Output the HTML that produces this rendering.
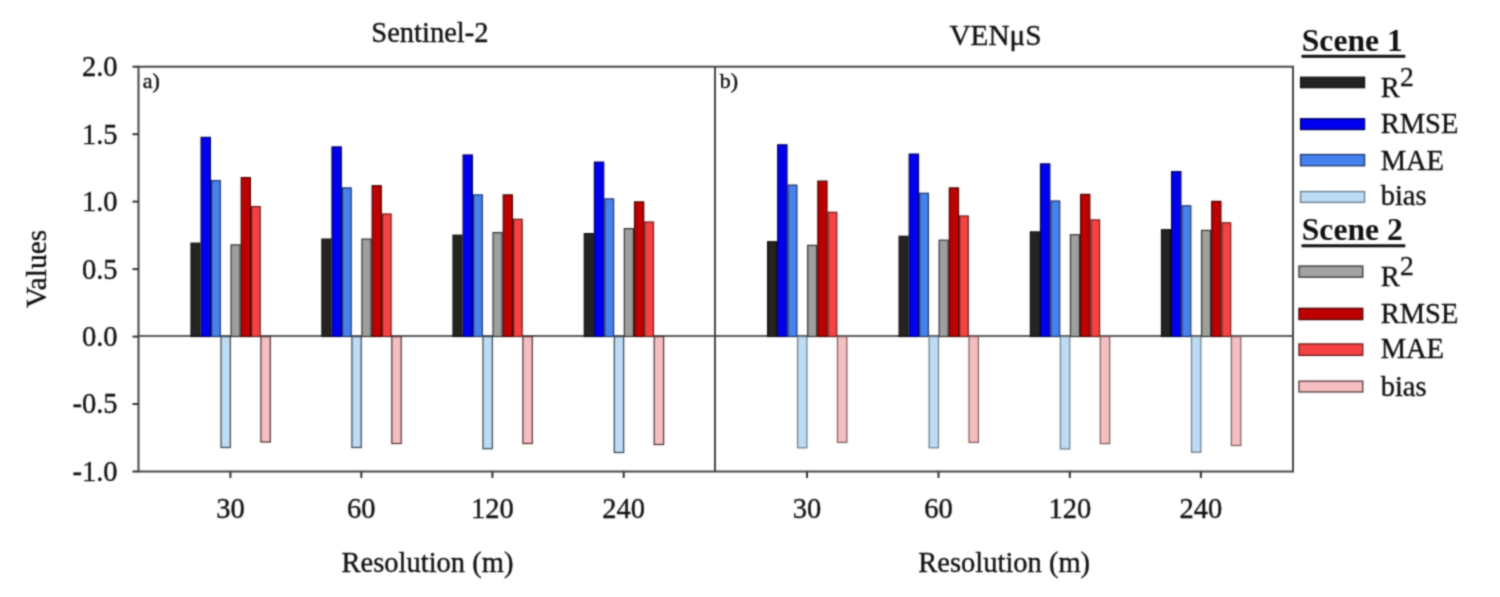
<!DOCTYPE html>
<html><head><meta charset="utf-8"><title>Chart</title>
<style>html,body{margin:0;padding:0;background:#fff;width:1500px;height:597px;overflow:hidden}svg{display:block}</style>
</head><body>
<svg width="1500" height="597" viewBox="0 0 1500 597">
<style>
.ax{stroke:#454545;stroke-width:2;fill:none}
.tk{stroke:#333333;stroke-width:2;fill:none}
.zl{stroke:#5c5c5c;stroke-width:2.2;fill:none}
.t{font-family:"Liberation Serif",serif;font-size:28.5px;fill:#111;stroke:#111;stroke-width:0.35px}
.lt{font-family:"Liberation Serif",serif;font-size:31.6px;font-weight:bold;fill:#111}
.sup{font-family:"Liberation Serif",serif;font-size:27.6px;fill:#111;stroke:#111;stroke-width:0.35px}
.ab{font-family:"Liberation Serif",serif;font-size:22px;fill:#111;stroke:#111;stroke-width:0.45px}
</style>
<defs><filter id="bl" x="0" y="0" width="1500" height="597" filterUnits="userSpaceOnUse" color-interpolation-filters="sRGB"><feConvolveMatrix order="5" kernelMatrix="0.00009 0.00198 0.00548 0.00198 0.00009 0.00198 0.04220 0.11707 0.04220 0.00198 0.00548 0.11707 0.32480 0.11707 0.00548 0.00198 0.04220 0.11707 0.04220 0.00198 0.00009 0.00198 0.00548 0.00198 0.00009" edgeMode="duplicate" preserveAlpha="true"/></filter></defs>
<g filter="url(#bl)">
<rect width="1500" height="597" fill="#ffffff"/>
<text x="371.3" y="42.3" class="t">Sentinel-2</text>
<text x="949.5" y="44.8" class="t" style="font-size:29.2px">VEN&#956;S</text>
<line x1="138.5" y1="336.0" x2="1293.0" y2="336.0" class="zl"/>
<rect x="191.00" y="243.20" width="8.90" height="93.30" fill="#262420" stroke="#111111" stroke-width="1.2"/>
<rect x="201.10" y="137.40" width="9.30" height="199.10" fill="#0000f0" stroke="#000060" stroke-width="1.2"/>
<rect x="211.60" y="180.60" width="8.70" height="155.90" fill="#4682ee" stroke="#1c3468" stroke-width="1.2"/>
<rect x="221.00" y="336.60" width="9.35" height="110.90" fill="#bcdbf4" stroke="#38444e" stroke-width="1.2"/>
<rect x="231.05" y="244.90" width="9.00" height="91.60" fill="#9e9f9f" stroke="#333333" stroke-width="1.2"/>
<rect x="241.25" y="177.60" width="9.15" height="158.90" fill="#be0000" stroke="#4a0000" stroke-width="1.2"/>
<rect x="251.60" y="206.60" width="8.60" height="129.90" fill="#f64242" stroke="#6a1a1a" stroke-width="1.2"/>
<rect x="260.90" y="336.60" width="9.40" height="105.40" fill="#f5bfc2" stroke="#4a3030" stroke-width="1.2"/>
<rect x="321.90" y="239.10" width="8.90" height="97.40" fill="#262420" stroke="#111111" stroke-width="1.2"/>
<rect x="332.00" y="146.90" width="9.30" height="189.60" fill="#0000f0" stroke="#000060" stroke-width="1.2"/>
<rect x="342.50" y="187.90" width="8.70" height="148.60" fill="#4682ee" stroke="#1c3468" stroke-width="1.2"/>
<rect x="351.90" y="336.60" width="9.35" height="110.90" fill="#bcdbf4" stroke="#38444e" stroke-width="1.2"/>
<rect x="361.95" y="239.10" width="9.00" height="97.40" fill="#9e9f9f" stroke="#333333" stroke-width="1.2"/>
<rect x="372.15" y="185.70" width="9.15" height="150.80" fill="#be0000" stroke="#4a0000" stroke-width="1.2"/>
<rect x="382.50" y="214.00" width="8.60" height="122.50" fill="#f64242" stroke="#6a1a1a" stroke-width="1.2"/>
<rect x="391.80" y="336.60" width="9.40" height="106.90" fill="#f5bfc2" stroke="#4a3030" stroke-width="1.2"/>
<rect x="453.00" y="235.20" width="8.90" height="101.30" fill="#262420" stroke="#111111" stroke-width="1.2"/>
<rect x="463.10" y="155.00" width="9.30" height="181.50" fill="#0000f0" stroke="#000060" stroke-width="1.2"/>
<rect x="473.60" y="194.90" width="8.70" height="141.60" fill="#4682ee" stroke="#1c3468" stroke-width="1.2"/>
<rect x="483.00" y="336.60" width="9.35" height="112.10" fill="#bcdbf4" stroke="#38444e" stroke-width="1.2"/>
<rect x="493.05" y="232.60" width="9.00" height="103.90" fill="#9e9f9f" stroke="#333333" stroke-width="1.2"/>
<rect x="503.25" y="194.90" width="9.15" height="141.60" fill="#be0000" stroke="#4a0000" stroke-width="1.2"/>
<rect x="513.60" y="219.30" width="8.60" height="117.20" fill="#f64242" stroke="#6a1a1a" stroke-width="1.2"/>
<rect x="522.90" y="336.60" width="9.40" height="106.90" fill="#f5bfc2" stroke="#4a3030" stroke-width="1.2"/>
<rect x="584.30" y="233.60" width="8.90" height="102.90" fill="#262420" stroke="#111111" stroke-width="1.2"/>
<rect x="594.40" y="162.10" width="9.30" height="174.40" fill="#0000f0" stroke="#000060" stroke-width="1.2"/>
<rect x="604.90" y="198.90" width="8.70" height="137.60" fill="#4682ee" stroke="#1c3468" stroke-width="1.2"/>
<rect x="614.30" y="336.60" width="9.35" height="115.90" fill="#bcdbf4" stroke="#38444e" stroke-width="1.2"/>
<rect x="624.35" y="228.60" width="9.00" height="107.90" fill="#9e9f9f" stroke="#333333" stroke-width="1.2"/>
<rect x="634.55" y="201.90" width="9.15" height="134.60" fill="#be0000" stroke="#4a0000" stroke-width="1.2"/>
<rect x="644.90" y="222.00" width="8.60" height="114.50" fill="#f64242" stroke="#6a1a1a" stroke-width="1.2"/>
<rect x="654.20" y="336.60" width="9.40" height="107.90" fill="#f5bfc2" stroke="#4a3030" stroke-width="1.2"/>
<rect x="767.60" y="241.70" width="8.90" height="94.80" fill="#262420" stroke="#111111" stroke-width="1.2"/>
<rect x="777.70" y="144.80" width="9.30" height="191.70" fill="#0000f0" stroke="#000060" stroke-width="1.2"/>
<rect x="788.20" y="185.10" width="8.70" height="151.40" fill="#4682ee" stroke="#1c3468" stroke-width="1.2"/>
<rect x="797.60" y="336.60" width="9.35" height="111.20" fill="#bcdbf4" stroke="#6d7a86" stroke-width="1.2"/>
<rect x="807.65" y="245.40" width="9.00" height="91.10" fill="#9e9f9f" stroke="#333333" stroke-width="1.2"/>
<rect x="817.85" y="181.10" width="9.15" height="155.40" fill="#be0000" stroke="#4a0000" stroke-width="1.2"/>
<rect x="828.20" y="212.30" width="8.60" height="124.20" fill="#f64242" stroke="#6a1a1a" stroke-width="1.2"/>
<rect x="837.50" y="336.60" width="9.40" height="105.80" fill="#f5bfc2" stroke="#7a5a5a" stroke-width="1.2"/>
<rect x="899.10" y="236.30" width="8.90" height="100.20" fill="#262420" stroke="#111111" stroke-width="1.2"/>
<rect x="909.20" y="154.10" width="9.30" height="182.40" fill="#0000f0" stroke="#000060" stroke-width="1.2"/>
<rect x="919.70" y="193.30" width="8.70" height="143.20" fill="#4682ee" stroke="#1c3468" stroke-width="1.2"/>
<rect x="929.10" y="336.60" width="9.35" height="111.20" fill="#bcdbf4" stroke="#6d7a86" stroke-width="1.2"/>
<rect x="939.15" y="240.20" width="9.00" height="96.30" fill="#9e9f9f" stroke="#333333" stroke-width="1.2"/>
<rect x="949.35" y="187.90" width="9.15" height="148.60" fill="#be0000" stroke="#4a0000" stroke-width="1.2"/>
<rect x="959.70" y="216.00" width="8.60" height="120.50" fill="#f64242" stroke="#6a1a1a" stroke-width="1.2"/>
<rect x="969.00" y="336.60" width="9.40" height="105.80" fill="#f5bfc2" stroke="#7a5a5a" stroke-width="1.2"/>
<rect x="1030.40" y="231.90" width="8.90" height="104.60" fill="#262420" stroke="#111111" stroke-width="1.2"/>
<rect x="1040.50" y="163.90" width="9.30" height="172.60" fill="#0000f0" stroke="#000060" stroke-width="1.2"/>
<rect x="1051.00" y="201.00" width="8.70" height="135.50" fill="#4682ee" stroke="#1c3468" stroke-width="1.2"/>
<rect x="1060.40" y="336.60" width="9.35" height="112.40" fill="#bcdbf4" stroke="#6d7a86" stroke-width="1.2"/>
<rect x="1070.45" y="234.70" width="9.00" height="101.80" fill="#9e9f9f" stroke="#333333" stroke-width="1.2"/>
<rect x="1080.65" y="194.40" width="9.15" height="142.10" fill="#be0000" stroke="#4a0000" stroke-width="1.2"/>
<rect x="1091.00" y="219.90" width="8.60" height="116.60" fill="#f64242" stroke="#6a1a1a" stroke-width="1.2"/>
<rect x="1100.30" y="336.60" width="9.40" height="107.00" fill="#f5bfc2" stroke="#7a5a5a" stroke-width="1.2"/>
<rect x="1161.50" y="229.70" width="8.90" height="106.80" fill="#262420" stroke="#111111" stroke-width="1.2"/>
<rect x="1171.60" y="171.60" width="9.30" height="164.90" fill="#0000f0" stroke="#000060" stroke-width="1.2"/>
<rect x="1182.10" y="205.80" width="8.70" height="130.70" fill="#4682ee" stroke="#1c3468" stroke-width="1.2"/>
<rect x="1191.50" y="336.60" width="9.35" height="115.60" fill="#bcdbf4" stroke="#6d7a86" stroke-width="1.2"/>
<rect x="1201.55" y="230.40" width="9.00" height="106.10" fill="#9e9f9f" stroke="#333333" stroke-width="1.2"/>
<rect x="1211.75" y="201.40" width="9.15" height="135.10" fill="#be0000" stroke="#4a0000" stroke-width="1.2"/>
<rect x="1222.10" y="222.80" width="8.60" height="113.70" fill="#f64242" stroke="#6a1a1a" stroke-width="1.2"/>
<rect x="1231.40" y="336.60" width="9.40" height="108.90" fill="#f5bfc2" stroke="#7a5a5a" stroke-width="1.2"/>
<rect x="138.5" y="66.7" width="1154.5" height="404.8" class="ax"/>
<line x1="715.0" y1="66.7" x2="715.0" y2="471.5" class="ax" style="stroke:#454545"/>
<line x1="132.5" y1="66.7" x2="138.5" y2="66.7" class="tk"/>
<text x="117.6" y="76.1" text-anchor="end" class="t">2.0</text>
<line x1="132.5" y1="134.2" x2="138.5" y2="134.2" class="tk"/>
<text x="117.6" y="143.6" text-anchor="end" class="t">1.5</text>
<line x1="132.5" y1="201.6" x2="138.5" y2="201.6" class="tk"/>
<text x="117.6" y="211.0" text-anchor="end" class="t">1.0</text>
<line x1="132.5" y1="269.1" x2="138.5" y2="269.1" class="tk"/>
<text x="117.6" y="278.5" text-anchor="end" class="t">0.5</text>
<line x1="132.5" y1="336.6" x2="138.5" y2="336.6" class="tk"/>
<text x="117.6" y="346.0" text-anchor="end" class="t">0.0</text>
<line x1="132.5" y1="404.0" x2="138.5" y2="404.0" class="tk"/>
<text x="117.6" y="413.4" text-anchor="end" class="t">-0.5</text>
<line x1="132.5" y1="471.5" x2="138.5" y2="471.5" class="tk"/>
<text x="117.6" y="480.9" text-anchor="end" class="t">-1.0</text>
<line x1="230.4" y1="471.5" x2="230.4" y2="478" class="tk"/>
<text x="230.4" y="517.6" text-anchor="middle" class="t">30</text>
<line x1="361.3" y1="471.5" x2="361.3" y2="478" class="tk"/>
<text x="361.3" y="517.6" text-anchor="middle" class="t">60</text>
<line x1="492.4" y1="471.5" x2="492.4" y2="478" class="tk"/>
<text x="492.4" y="517.6" text-anchor="middle" class="t">120</text>
<line x1="623.7" y1="471.5" x2="623.7" y2="478" class="tk"/>
<text x="623.7" y="517.6" text-anchor="middle" class="t">240</text>
<line x1="807.0" y1="471.5" x2="807.0" y2="478" class="tk"/>
<text x="807.0" y="517.6" text-anchor="middle" class="t">30</text>
<line x1="938.5" y1="471.5" x2="938.5" y2="478" class="tk"/>
<text x="938.5" y="517.6" text-anchor="middle" class="t">60</text>
<line x1="1069.8" y1="471.5" x2="1069.8" y2="478" class="tk"/>
<text x="1069.8" y="517.6" text-anchor="middle" class="t">120</text>
<line x1="1200.9" y1="471.5" x2="1200.9" y2="478" class="tk"/>
<text x="1200.9" y="517.6" text-anchor="middle" class="t">240</text>
<text x="142.8" y="88.1" class="ab">a)</text>
<text x="719.8" y="87.8" class="ab">b)</text>
<text x="0" y="0" class="t" text-anchor="middle" style="font-size:29.3px" transform="translate(45.6 269) rotate(-90)">Values</text>
<text x="427.5" y="572.4" text-anchor="middle" class="t">Resolution (m)</text>
<text x="1004.2" y="571.8" text-anchor="middle" class="t">Resolution (m)</text>
<text x="1301.8" y="51.0" class="lt">Scene 1</text>
<rect x="1301.5" y="54.8" width="103.8" height="3" fill="#111"/>
<text x="1301.8" y="240.2" class="lt">Scene 2</text>
<rect x="1301.5" y="244.3" width="103.8" height="3" fill="#111"/>
<rect x="1300.55" y="77.25" width="64.00" height="10.40" fill="#222222" stroke="#151515" stroke-width="1.3"/>
<text x="1380.8" y="96.9" class="t">R</text>
<text x="1400.1" y="85.6" class="sup">2</text>
<rect x="1300.55" y="118.75" width="64.00" height="10.80" fill="#0000f0" stroke="#000060" stroke-width="1.3"/>
<text x="1380.7" y="133.0" class="t">RMSE</text>
<rect x="1300.55" y="154.55" width="64.00" height="11.20" fill="#4682ee" stroke="#1c3468" stroke-width="1.3"/>
<text x="1380.7" y="169.6" class="t">MAE</text>
<rect x="1300.55" y="191.55" width="64.00" height="10.80" fill="#bcdbf4" stroke="#6a7884" stroke-width="1.3"/>
<text x="1380.7" y="205.4" class="t">bias</text>
<rect x="1298.95" y="266.05" width="63.80" height="11.10" fill="#a2a2a2" stroke="#333333" stroke-width="1.3"/>
<text x="1380.8" y="286.3" class="t">R</text>
<text x="1400.1" y="275.0" class="sup">2</text>
<rect x="1298.95" y="308.35" width="63.80" height="11.20" fill="#be0000" stroke="#4a0000" stroke-width="1.3"/>
<text x="1380.7" y="323.2" class="t">RMSE</text>
<rect x="1298.95" y="343.95" width="63.80" height="11.40" fill="#f64242" stroke="#6a1a1a" stroke-width="1.3"/>
<text x="1380.7" y="358.4" class="t">MAE</text>
<rect x="1298.95" y="381.15" width="63.80" height="10.80" fill="#f5bfc2" stroke="#4e3a3a" stroke-width="1.3"/>
<text x="1380.7" y="395.6" class="t">bias</text>
</g>
</svg>
</body></html>
